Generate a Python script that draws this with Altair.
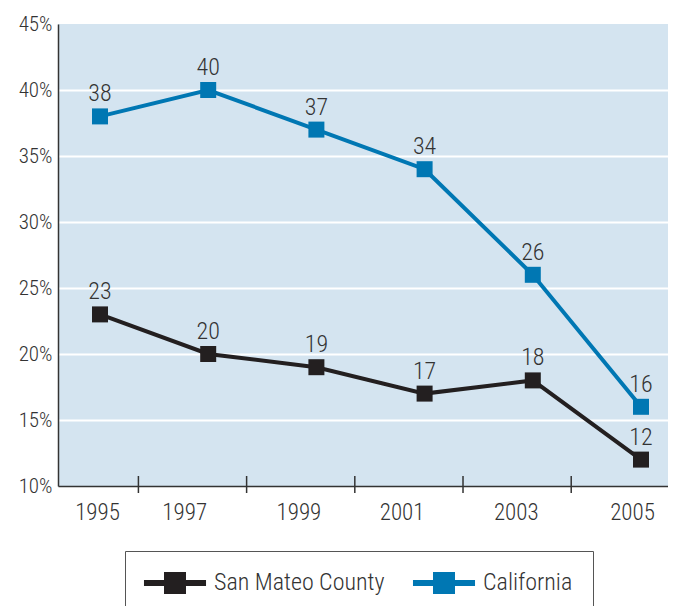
import altair as alt
import pandas as pd

# ---- data ----
years = [1995, 1997, 1999, 2001, 2003, 2005]
san_mateo = [23, 20, 19, 17, 18, 12]
california = [38, 40, 37, 34, 26, 16]
series = ["San Mateo County", "California"]
colors = ["#231f20", "#0077b3"]
y_ticks = [10, 15, 20, 25, 30, 35, 40, 45]

rows = []
for s, vals in zip(series, [san_mateo, california]):
    for yr, v in zip(years, vals):
        rows.append({"year": yr, "value": v, "series": s})
df = pd.DataFrame(rows)
tick_df = pd.DataFrame({"year": [y + 0.71 for y in years[:-1]]})

FONT = "Roboto Condensed, Liberation Sans Narrow, DejaVu Sans Condensed, sans-serif"
TXT = "#333333"
WEIGHT = 300
W, H = 610, 462
PX_PER_YEAR = 54.1
x0 = 1995 - 42 / PX_PER_YEAR

x_scale = alt.Scale(domain=[x0, x0 + W / PX_PER_YEAR], nice=False, zero=False)
y_scale = alt.Scale(domain=[10, 45], nice=False, zero=False)
color_scale = alt.Scale(domain=series, range=colors)

label_offsets = {1995: -3, 1997: -24, 1999: -18, 2001: -23, 2003: -17, 2005: -9}

x_axis = alt.Axis(
    values=years, ticks=False, grid=False, domain=True,
    domainColor=TXT, domainWidth=1.5, labelFontSize=23, labelFont=FONT,
    labelFontWeight=WEIGHT,
    labelColor=TXT, labelPadding=15, format="d", title=None,
    labelOffset={"condition": [{"test": f"datum.value == {k}", "value": v}
                               for k, v in label_offsets.items()], "value": 0},
)
y_axis = alt.Axis(
    values=y_ticks, labelExpr="datum.value + '%'", ticks=False, grid=True,
    gridColor="white", gridWidth=2,
    gridOpacity={"condition": {"test": "datum.value == 45 || datum.value == 10", "value": 0}, "value": 1},
    domainColor=TXT, domainWidth=1.5, labelFontSize=21, labelFont=FONT,
    labelFontWeight=WEIGHT,
    labelColor=TXT, labelPadding=6, title=None,
)

legend = alt.Legend(
    title=None, orient="none", legendX=67, legendY=527, direction="horizontal",
    strokeColor="#555555", fillColor="white", padding=20, cornerRadius=0,
    labelFontSize=24, labelFont=FONT, labelFontWeight=WEIGHT, labelColor=TXT,
    labelOffset=27, labelLimit=400, columnPadding=27, symbolOffset=18,
    labelExpr="datum.label == 'California' ? datum.label + '      ' : datum.label",
    symbolType="M-2.82,-0.27H2.82V0.27H-2.82Z M-1,-1H1V1H-1Z",
    symbolSize=484, symbolStrokeWidth=0, symbolOpacity=1,
)

line = alt.Chart(df).mark_line(strokeWidth=4).encode(
    x=alt.X("year:Q", scale=x_scale, axis=x_axis),
    y=alt.Y("value:Q", scale=y_scale, axis=y_axis),
    color=alt.Color("series:N", scale=color_scale, legend=legend),
)
points = alt.Chart(df).mark_point(shape="square", size=256, filled=True, opacity=1).encode(
    x="year:Q", y="value:Q",
    color=alt.Color("series:N", scale=color_scale, legend=legend),
)
labels = alt.Chart(df).mark_text(
    dy=-15, fontSize=24, font=FONT, fontWeight=WEIGHT, color=TXT,
    baseline="alphabetic", align="center"
).encode(x="year:Q", y="value:Q", text="value:Q")
ticks = alt.Chart(tick_df).mark_rule(color=TXT, strokeWidth=1.5).encode(
    x="year:Q", y=alt.value(H - 10), y2=alt.value(H + 7)
)

chart = alt.layer(line, points, labels, ticks).properties(
    width=W, height=H, autosize="none",
    padding={"left": 50, "top": 16, "right": 0, "bottom": 130},
).configure_view(fill="#d4e4f0", strokeWidth=0).configure_legend(
    symbolFillColor="black"
)

chart.save("out.html", embed_options={"renderer": "svg", "actions": False})
